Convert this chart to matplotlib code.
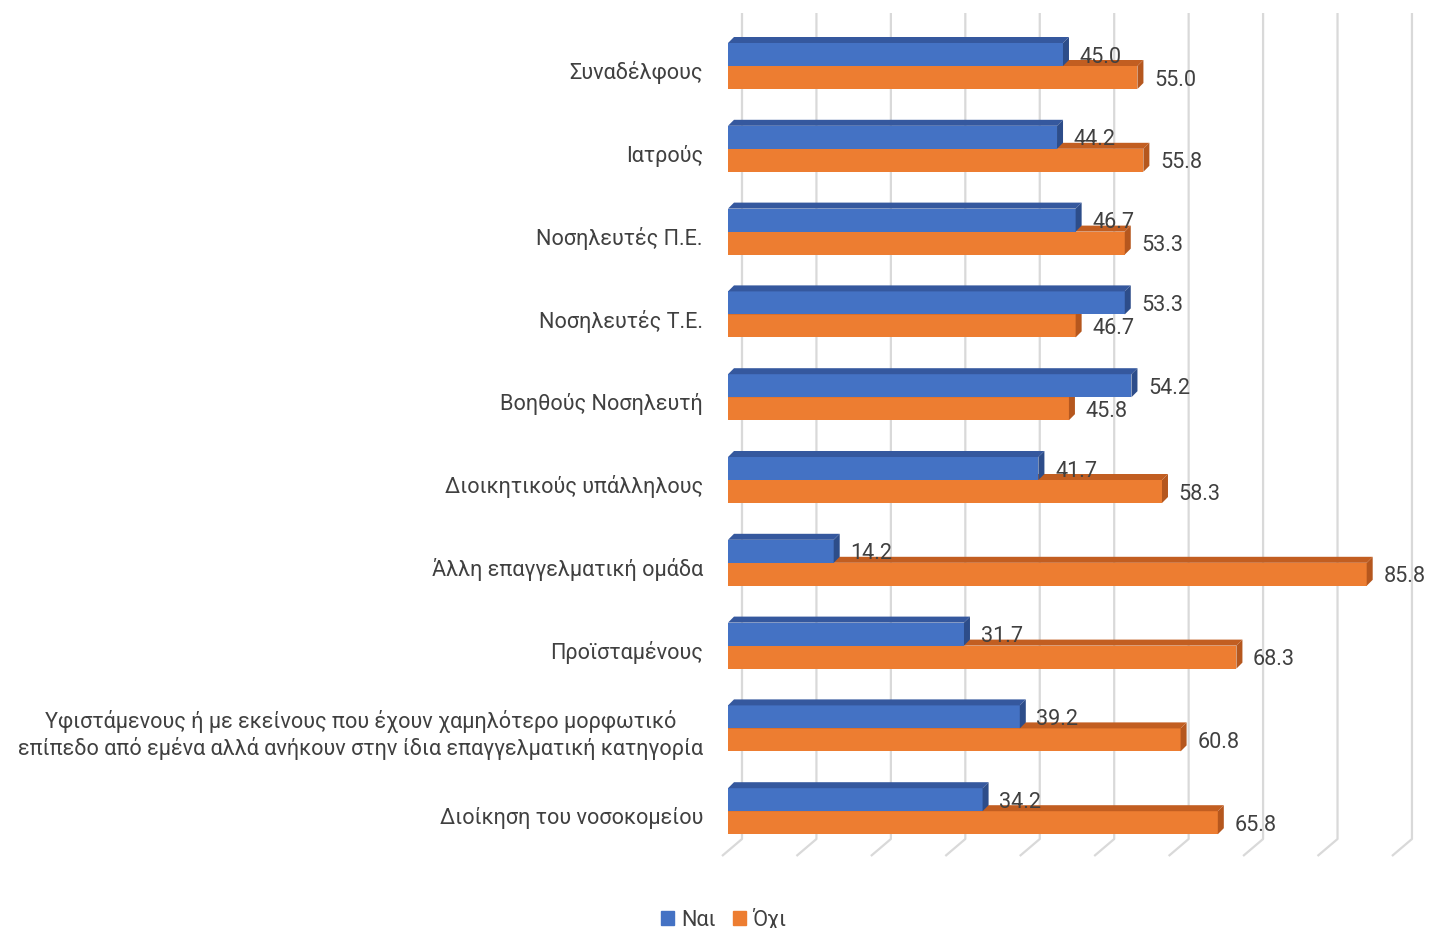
import matplotlib.pyplot as plt
from matplotlib.patches import Polygon, Patch

plt.rcParams['font.family'] = ['Roboto', 'DejaVu Sans']

categories = [
    'Συναδέλφους',
    'Ιατρούς',
    'Νοσηλευτές Π.Ε.',
    'Νοσηλευτές Τ.Ε.',
    'Βοηθούς Νοσηλευτή',
    'Διοικητικούς υπάλληλους',
    'Άλλη επαγγελματική ομάδα',
    'Προϊσταμένους',
    'Υφιστάμενους ή με εκείνους που έχουν χαμηλότερο μορφωτικό\n'
    'επίπεδο από εμένα αλλά ανήκουν στην ίδια επαγγελματική κατηγορία',
    'Διοίκηση του νοσοκομείου',
]
nai = [45.0, 44.2, 46.7, 53.3, 54.2, 41.7, 14.2, 31.7, 39.2, 34.2]
oxi = [55.0, 55.8, 53.3, 46.7, 45.8, 58.3, 85.8, 68.3, 60.8, 65.8]
series_names = ['Ναι', 'Όχι']

W, H = 1429, 929
fig = plt.figure(figsize=(W / 100, H / 100), dpi=100)

# pixel geometry of the plot (front plane)
x0_px, px_per_unit = 728, 7.444
y0_px, px_per_cat = 67, 82.8
ylim = (9.6, -0.7)
xmax = 90
top_px = y0_px + ylim[1] * px_per_cat
bot_px = y0_px + ylim[0] * px_per_cat
ax = fig.add_axes([x0_px / W, 1 - bot_px / H,
                   xmax * px_per_unit / W, (bot_px - top_px) / H])
ax.set_xlim(0, xmax)
ax.set_ylim(*ylim)
ax.axis('off')

def dx(px):
    return px / px_per_unit

def dy(px):
    return px / px_per_cat

# back-wall gridlines with slanted floor segments
grid_top = dy(14 - y0_px)
grid_bot = dy(840 - y0_px)
floor_bot = dy(857 - y0_px)
for v in range(0, xmax + 1, 10):
    ax.plot([v + dx(14), v + dx(14), v - dx(6)], [grid_top, grid_bot, floor_bot],
            color='#D9D9D9', lw=1.6, solid_capstyle='butt', clip_on=False, zorder=0)

h = dy(23)
d = 6
colors = {
    'Ναι': ('#4472C4', '#35589E', '#2D4D8A'),
    'Όχι': ('#ED7D31', '#C25E21', '#B5571E'),
}
fs = 15.6

def bar3d(y_top, v, cols, z):
    front, topc, side = cols
    ax.add_patch(Polygon([(0, y_top), (v, y_top), (v, y_top + h), (0, y_top + h)],
                         closed=True, fc=front, ec='none', zorder=z))
    ax.add_patch(Polygon([(0, y_top), (v, y_top), (v + dx(d), y_top - dy(d)),
                          (dx(d), y_top - dy(d))],
                         closed=True, fc=topc, ec='none', zorder=z))
    ax.add_patch(Polygon([(v, y_top), (v, y_top + h), (v + dx(d), y_top + h - dy(d)),
                          (v + dx(d), y_top - dy(d))],
                         closed=True, fc=side, ec='none', zorder=z))

for i, (a, b) in enumerate(zip(nai, oxi)):
    base = 2 * (len(nai) - i)
    bar3d(i, b, colors['Όχι'], base)
    bar3d(i - h, a, colors['Ναι'], base + 1)
    ax.annotate(f'{a:.1f}', xy=(a, i - h / 2), xytext=(12, -1.2), textcoords='offset points',
                ha='left', va='center', fontsize=fs, color='#404040', zorder=50)
    ax.annotate(f'{b:.1f}', xy=(b, i + h / 2), xytext=(12, -1.2), textcoords='offset points',
                ha='left', va='center', fontsize=fs, color='#404040', zorder=50)

for i, lab in enumerate(categories):
    ax.annotate(lab, xy=(0, i), xycoords=('axes fraction', 'data'),
                xytext=(-18, -4.2), textcoords='offset points',
                ha='right', va='center', multialignment='center',
                fontsize=fs, color='#404040')

handles = [Patch(color=colors[n][0], label=n) for n in series_names]
fig.legend(handles=handles, loc='center', bbox_to_anchor=(724 / W, 1 - 920 / H), ncol=2,
           frameon=False, fontsize=fs, handlelength=0.6, handleheight=0.6,
           handletextpad=0.3, columnspacing=0.8, labelcolor='#404040')

fig.savefig('out.png', dpi=100)
